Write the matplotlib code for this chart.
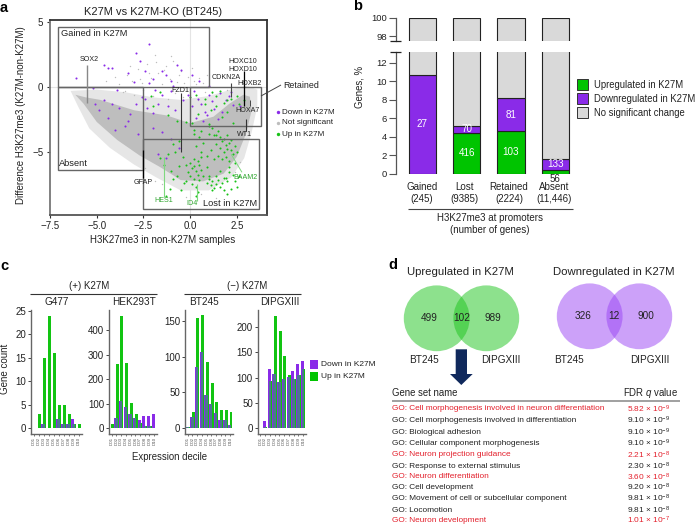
import matplotlib
matplotlib.use("Agg")
import matplotlib.pyplot as plt
from matplotlib.patches import Circle, Polygon, Rectangle

plt.rcParams['font.family'] = ['Liberation Sans', 'DejaVu Sans']
plt.rcParams['mathtext.fontset'] = 'custom'
plt.rcParams['mathtext.rm'] = 'Liberation Sans'
plt.rcParams['mathtext.it'] = 'Liberation Sans:italic'
plt.rcParams['mathtext.default'] = 'regular'

W, H = 696, 525
GREEN = '#00c400'
PURPLE = '#8a2be8'
LGRAY = '#d9d9d9'
TXT = '#222222'

# ---------- panel a data ----------
core_x = [-6.15,-5.6,-4.8,-3.0,-1.25,0.0,1.25,2.1,2.85,3.2,3.3,3.0,2.5,1.8,0.7,-0.5,-1.6,-2.7,-3.9,-5.0,-5.7]
core_y = [-0.6,-0.8,-1.0,-1.8,-2.2,-2.8,-2.3,-1.3,-0.6,-0.75,-1.8,-3.6,-5.4,-6.7,-7.3,-7.2,-6.2,-5.3,-4.1,-2.7,-1.3]
halo_x = [-6.4,-5.0,-3.5,-2.0,-0.5,1.0,2.2,3.0,3.6,3.6,3.3,2.9,2.2,1.0,-0.5,-1.8,-3.0,-4.3,-5.4,-6.0]
halo_y = [-0.3,-0.2,-0.4,-0.8,-1.0,-0.7,-0.2,0.1,-0.2,-1.5,-3.5,-5.5,-7.0,-8.0,-8.0,-7.0,-6.0,-4.7,-3.2,-1.5]
ns_x = [-3.8,-3.4,-3.1,-2.8,-2.6,-2.3,-2.1,-1.9,-1.7,-1.5,-1.3,-1.1,-0.9,-0.7,-0.5,-0.3,-0.1,0.1,0.3,0.5,0.7,0.9,
        -3.5,-3.0,-2.5,-2.0,-1.6,-1.2,-0.8,-0.4,0.0,0.4,0.8,1.2,1.6,2.0,-2.7,-2.2,-1.4,-0.6,0.2,-1.0,-1.8,-3.2,
        -4.5,-4.0,-3.6,-1.5,-2.4,0.6,1.4,1.8,2.4,2.7,-0.2,-1.9]
ns_y = [0.2,0.9,0.5,1.4,0.3,1.8,0.7,2.5,1.1,0.2,1.6,0.6,2.0,0.4,1.2,0.3,0.8,1.5,0.2,0.7,0.3,0.9,
        -0.3,-0.6,-0.2,-0.7,-0.4,-0.9,-0.5,-0.8,-0.6,-1.0,-0.4,-0.5,-0.3,-0.2,0.6,1.1,1.3,0.9,0.5,2.4,1.9,1.6,
        0.5,0.8,-0.4,-7.5,-6.3,-8.3,-8.6,-8.0,-6.6,-5.8,-8.5,-7.3]
down_x = [-6.1,-5.2,-4.6,-4.4,-4.2,-3.3,-2.9,-2.7,-2.2,-2.4,-2.0,-1.5,-1.3,-0.7,-0.5,0.1,0.5,1.0,-1.0,-3.9,-4.6,-4.2,-3.8,-3.2,
          -2.9,-2.6,-2.4,-2.3,-2.0,-1.7,-1.5,-1.2,-1.0,-0.8,-0.4,-0.1,0.2,0.4,0.6,0.8,1.0,1.2,1.3,0.3,0.7,1.6,1.9,2.1,2.3,2.7,
          1.5,-4.4,-3.5,-4.0,-2.8,-2.0,-1.5,-1.0,-1.7,-1.3,-0.6,-3.3,-4.9,-5.1,0.1,0.9,1.7,-2.2,-3.0,-1.9,-0.9,2.2]
down_y = [0.7,-0.1,1.7,1.5,1.5,1.1,2.6,2.0,3.3,1.2,0.6,1.2,0.9,1.7,1.3,0.9,0.5,0.1,0.5,-0.2,-1.0,-1.3,-1.6,-2.1,
          -1.3,-0.8,-0.9,-1.6,-2.0,-1.3,-0.6,-1.5,-0.3,-1.8,-1.0,-0.6,-0.3,-0.9,-1.3,-1.9,-0.6,-1.1,-1.7,-2.4,-2.6,-0.5,-1.0,-0.7,-1.4,-1.5,
          -2.5,-2.4,-3.0,-3.3,-3.6,-3.2,-3.5,-4.0,-5.2,-5.5,-4.7,-2.6,-1.8,-1.3,-1.5,-2.2,-1.9,0.3,0.4,-0.2,0.1,-0.4]
up_x = [1.4,1.6,1.7,1.8,1.9,2.0,2.1,2.2,1.5,1.7,1.9,2.1,2.3,1.6,1.8,2.0,2.2,1.3,2.4,2.5,
        0.9,1.0,1.1,1.2,1.3,1.4,1.5,1.6,1.7,1.8,1.9,2.0,2.1,2.2,2.3,1.0,1.2,1.4,1.6,1.8,2.0,2.4,2.6,2.5,
        -0.1,0.0,0.1,0.2,0.3,0.4,0.5,0.6,0.1,0.3,0.5,0.2,0.4,0.7,-0.2,0.0,0.2,0.4,0.6,0.3,
        -1.6,-1.4,-1.2,-1.0,-0.8,-0.6,-0.4,-0.9,-1.1,-0.7,-0.5,-0.3,-0.2,-0.9,-0.6,-1.3,
        0.9,1.1,1.3,0.7,1.5,0.5,0.2,0.9,2.1,2.4,1.0,0.6,0.3,1.2,1.4,1.0,
        0.1,0.4,0.8,1.1,1.4,1.7,2.0,2.3,2.6,2.2,1.8,1.4,1.0,0.6,0.2,-0.2,-2.1,-2.0,-1.6,-1.2,-0.7,0.0,0.3,0.8,1.2,1.6,2.0,2.5,2.9]
up_y = [-4.4,-4.7,-4.2,-5.0,-4.5,-4.8,-4.3,-4.9,-5.3,-5.6,-5.4,-5.7,-5.2,-3.9,-4.0,-3.7,-4.1,-3.7,-4.6,-5.0,
        -7.4,-7.1,-7.6,-7.3,-7.8,-7.5,-7.2,-7.7,-7.4,-8.0,-7.0,-7.3,-6.6,-7.9,-6.8,-6.9,-8.0,-6.9,-6.5,-7.0,-8.3,-7.3,-6.9,-7.7,
        -6.6,-6.9,-6.3,-7.1,-6.5,-6.8,-7.2,-6.4,-7.5,-7.7,-6.0,-6.1,-8.1,-6.9,-7.3,-5.9,-5.6,-5.7,-5.4,-8.4,
        -5.5,-6.0,-5.2,-6.5,-5.0,-6.1,-5.4,-7.1,-7.9,-6.9,-8.0,-7.4,-6.0,-4.4,-4.2,-8.4,
        -5.3,-4.9,-5.6,-4.3,-3.4,-3.9,-3.3,-6.2,-6.2,-5.9,-3.6,-5.0,-4.6,-3.2,-3.7,-2.9,
        -2.8,-2.1,-1.3,-1.8,-1.5,-2.3,-1.9,-2.8,-1.3,-0.9,-1.2,-0.7,-3.0,-3.4,-3.6,-2.7,-0.7,-1.5,-0.4,-2.2,-2.6,-0.8,-0.6,-0.9,-0.4,-0.3,-1.0,-0.7,-1.0]

# ---------- panel b data ----------
b_labels = ['Gained\n(245)', 'Lost\n(9385)', 'Retained\n(2224)', 'Absent\n(11,446)']
b_up = [0, 4.4, 4.6, 0.45]
b_down = [10.7, 0.8, 3.6, 1.15]
b_up_n = ['', '416', '103', '56']
b_down_n = ['27', '70', '81', '133']

# ---------- panel c data ----------
deciles = ['D%02d' % i for i in range(1, 11)]
g477_down = [0,0,1,0,0,2,1,1,2,0]
g477_up = [0,3,15,24,16,5,5,3,1,1]
hek_down = [2,42,112,85,58,42,32,49,51,60]
hek_up = [17,264,460,268,103,58,20,10,8,0]
bt_down = [1,15,85,106,47,34,21,11,12,5]
bt_up = [1,22,154,158,92,63,36,25,25,22]
dipg_down = [0,14,118,108,92,97,102,113,127,133]
dipg_up = [0,3,93,223,193,143,106,98,105,118]

# ---------- panel d data ----------
go_names = ['GO: Cell morphogenesis involved in neuron differentiation',
            'GO: Cell morphogenesis involved in differentiation',
            'GO: Biological adhesion', 'GO: Cellular component morphogenesis',
            'GO: Neuron projection guidance', 'GO: Response to external stimulus',
            'GO: Neuron differentiation', 'GO: Cell development',
            'GO: Movement of cell or subcellular component', 'GO: Locomotion',
            'GO: Neuron development']
go_mant = ['5.82','9.10','9.10','9.10','2.21','2.30','3.60','9.20','9.81','9.81','1.01']
go_exp = ['-9','-9','-9','-9','-8','-8','-8','-8','-8','-8','-7']
go_red = [True,False,False,False,True,False,True,False,False,False,True]

fig = plt.figure(figsize=(W/100, H/100), dpi=100)

def axpx(l, t, r, b):
    return fig.add_axes([l/W, 1-b/H, (r-l)/W, (b-t)/H])

# overlay in pixel coordinates, for annotation
ov = fig.add_axes([0, 0, 1, 1], zorder=20)
ov.set_xlim(0, W); ov.set_ylim(H, 0); ov.axis('off'); ov.patch.set_alpha(0)

def T(x, y, s, size=7, ha='center', va='center', color=TXT, **kw):
    return ov.text(x, y, s, fontsize=size, ha=ha, va=va, color=color, **kw)

def L(xs, ys, color='#333333', lw=0.8):
    ov.plot(xs, ys, color=color, lw=lw, solid_capstyle='butt')

for s, x, y in [('a', 4, 8), ('b', 358, 6), ('c', 4, 266), ('d', 393, 265)]:
    T(x, y, s, size=10.5, color='black', fontweight='bold')

# ---------- panel a ----------
a = axpx(49.5, 20, 267, 215)
a.set_xlim(-7.53, 4.12); a.set_ylim(-9.9, 5.18)
a.axhline(0, color='#e4e4e4', lw=0.8, zorder=0)
a.axvline(0, color='#e4e4e4', lw=0.8, zorder=0)
a.fill(halo_x, halo_y, color='#e6e6e6', lw=0, zorder=1)
a.fill(core_x, core_y, color='#bebebe', lw=0, zorder=1.1)
a.scatter(ns_x, ns_y, s=1.0, color='#bdbdbd', lw=0, zorder=2)
a.scatter(down_x, down_y, s=2.2, color=PURPLE, lw=0, zorder=3)
a.scatter(up_x, up_y, s=2.2, color='#18c218', lw=0, zorder=3)
for (x0, x1, y0, y1) in [(-7.1, 1.04, 0, 4.6), (-7.1, -2.5, -6.45, 0), (0, 3.79, -3.05, 0), (-2.5, 3.7, -9.45, -4)]:
    a.add_patch(Rectangle((x0, y0), x1-x0, y1-y0, fill=False, ec='#666666', lw=1.0, zorder=4))
for s in a.spines.values():
    s.set_color('#333333'); s.set_linewidth(1.3)
a.spines['left'].set_color('#777777'); a.spines['bottom'].set_color('#555555')
a.set_xticks([-7.5, -5, -2.5, 0, 2.5]); a.set_xticklabels(['\u22127.5', '\u22125.0', '\u22122.5', '0.0', '2.5'])
a.set_yticks([5, 0, -5]); a.set_yticklabels(['5', '0', '\u22125'])
a.tick_params(labelsize=7, length=2.5, width=0.8, pad=2, color='#333333', labelcolor=TXT)
a.set_zorder(5)
for xs, ys, c, lw in [([-5.5, -5.5], [1.7, -1.2], '#888888', 1.0), ([-2.5, -2.5], [-4.9, -7.0], 'black', 0.9),
                      ([-0.5, -0.5], [-0.5, -5.0], '#333333', 0.8), ([2.87, 2.87], [1.2, -1.5], 'black', 0.9),
                      ([2.17, 2.17], [0.3, -0.8], '#444444', 0.8), ([3.2, 3.2], [-1.0, -1.45], '#444444', 0.7),
                      ([2.98, 2.98], [-2.5, -3.4], '#333333', 0.8), ([2.2, 2.78], [-5.2, -6.6], '#7fd87f', 0.7),
                      ([-1.4, -1.4], [-5.4, -8.5], '#7fd87f', 0.8), ([0.35, 0.35], [-7.5, -8.8], '#7fd87f', 0.8)]:
    a.plot(xs, ys, color=c, lw=lw, zorder=4.5, solid_capstyle='butt')
GT = '#2fa52f'
for s, x, y, c in [('SOX2', -5.4, 2.1, TXT), ('GFAP', -2.5, -7.4, TXT), ('FZD1', -0.5, -0.3, TXT), ('HOXC10', 2.8, 2.0, TXT),
                   ('HOXD10', 2.8, 1.35, TXT), ('CDKN2A', 1.95, 0.7, TXT), ('HOXB2', 3.2, 0.25, TXT), ('HOXA7', 3.1, -1.8, TXT),
                   ('WT1', 2.9, -3.7, TXT), ('BAAM2', 2.97, -7.0, GT), ('HES1', -1.4, -8.8, GT), ('ID4', 0.08, -9.0, GT)]:
    a.text(x, y, s, fontsize=5.1, ha='center', va='center', color=c, zorder=6)
a.text(-6.9, 4.15, 'Gained in K27M', fontsize=6.7, ha='left', va='center', color=TXT, zorder=6)
a.text(-7.0, -5.9, 'Absent', fontsize=6.7, ha='left', va='center', color=TXT, zorder=6)
a.text(3.6, -9.0, 'Lost in K27M', fontsize=6.7, ha='right', va='center', color=TXT, zorder=6)
T(153, 12, 'K27M vs K27M-KO (BT245)', size=8.0)
T(163, 240, 'H3K27me3 in non-K27M samples', size=7.0)
T(21, 115, 'Difference H3K27me3 (K27M-non-K27M)', size=7.0, rotation=90)
T(283, 85, 'Retained', size=6.4, ha='left')
L([261, 281], [96, 85], '#444444', 0.7)
for y, c, s in [(112, PURPLE, 'Down in K27M'), (123, '#bdbdbd', 'Not significant'), (134, '#18c218', 'Up in K27M')]:
    ov.scatter([277.5], [y], s=6, color=c, lw=0)
    T(282, y, s, size=5.9, ha='left')

# ---------- panel b ----------
btop = axpx(396, 17.7, 573, 40.7)
blow = axpx(396, 51.7, 573, 173.7)
xpos = list(range(4))
for ax_ in (btop, blow):
    ax_.set_xlim(-0.596, 3.4)
    bottoms = [u+d for u, d in zip(b_up, b_down)]
    ax_.bar(xpos, b_up, width=0.62, color=GREEN, edgecolor='#222222', lw=0.8)
    ax_.bar(xpos, b_down, width=0.62, bottom=b_up, color=PURPLE, edgecolor='#222222', lw=0.8)
    ax_.bar(xpos, [100-v for v in bottoms], width=0.62, bottom=bottoms, color=LGRAY, edgecolor='#222222', lw=0.8)
    for k in ('top', 'right', 'bottom'):
        ax_.spines[k].set_visible(False)
    ax_.spines['left'].set_color('#555555')
    ax_.spines['left'].set_linewidth(0.9)
    ax_.set_xticks([])
    ax_.tick_params(labelsize=6.8, length=5, width=0.8, pad=1.5, color='#555555', labelcolor=TXT)
btop.set_ylim(97.5, 100); btop.set_yticks([100, 98])
blow.set_ylim(0, 13.2); blow.set_yticks(list(range(0, 13, 2)))
L([390, 401], [40.7, 40.7], '#222222', 0.9)
L([390, 401], [51.7, 51.7], '#222222', 0.9)
for i in xpos:
    if b_down_n[i]:
        blow.text(i, b_up[i]+b_down[i]/2, b_down_n[i], color='white', fontsize=7.1, ha='center', va='center')
    if b_up_n[i] and i != 3:
        blow.text(i, b_up[i]/2, b_up_n[i], color='white', fontsize=7.1, ha='center', va='center')
T(555, 178.7, b_up_n[3], size=7)
for cx, s in zip([421.7, 464.5, 509, 554.5], b_labels):
    T(cx, 193, s, size=7.0, linespacing=1.2)
L([407.7, 573.3], [209.3, 209.3], '#444444', 0.8)
T(490, 224, 'H3K27me3 at promoters\n(number of genes)', size=7.0, linespacing=1.2)
T(359.5, 87, 'Genes, %', size=6.9, rotation=90)
for y, c, s in [(79.3, GREEN, 'Upregulated in K27M'), (93.3, PURPLE, 'Downregulated in K27M'), (107.3, LGRAY, 'No significant change')]:
    ov.add_patch(Rectangle((576.5, y), 11.5, 10.5, fc=c, ec='#333333', lw=0.7))
    T(593.5, y+5.3, s, size=6.85, ha='left')

# ---------- panel c ----------
def decile_panel(box, down, up, ymax, yticks, title, tcx):
    ax = axpx(*box)
    xs = list(range(1, 11))
    ax.bar([x-0.17 for x in xs], down, width=0.62, color=PURPLE, lw=0, zorder=2)
    ax.bar([x+0.17 for x in xs], up, width=0.62, color='#12c412', lw=0, zorder=3)
    # where both bars of a decile stand side by side the reference blends to blue-grey
    ax.bar(xs, [min(d, u) for d, u in zip(down, up)], width=0.5, color='#4f7393', lw=0, zorder=4)
    ax.set_xlim(0.45, 10.6)
    ax.set_ylim(-ymax*0.0465, ymax)
    ax.set_xticks(xs)
    ax.set_xticklabels(deciles, rotation=90, fontsize=3.2, color='#555555')
    ax.set_yticks(yticks)
    ax.tick_params(axis='y', labelsize=7, length=2, width=0.7, pad=1.5, color='#444444', labelcolor=TXT)
    ax.tick_params(axis='x', length=1.5, width=0.5, pad=1, color='#444444')
    for k in ('top', 'right'):
        ax.spines[k].set_visible(False)
    for k in ('left', 'bottom'):
        ax.spines[k].set_color('#666666'); ax.spines[k].set_linewidth(1.0)
    T(tcx, 302.3, title, size=7.2)
    return ax

decile_panel((31, 310, 81.7, 433.7), g477_down, g477_up, 25.2, [0, 5, 10, 15, 20, 25], 'G477', 56.7)
decile_panel((109, 310, 157, 433.7), hek_down, hek_up, 483, [0, 100, 200, 300, 400], 'HEK293T', 134.3)
decile_panel((185, 310, 233, 433.7), bt_down, bt_up, 165, [0, 50, 100, 150], 'BT245', 204)
decile_panel((257.7, 310, 306, 433.7), dipg_down, dipg_up, 234, [0, 50, 100, 150, 200], 'DIPGXIII', 280)
T(89.3, 285.7, '(+) K27M', size=7)
T(247.3, 285.7, '(\u2212) K27M', size=7)
L([30, 157], [294.3, 294.3], '#333333', 0.8)
L([184.3, 300.7], [294.3, 294.3], '#333333', 0.8)
T(169.5, 456.7, 'Expression decile', size=6.9)
T(5, 369, 'Gene count', size=7, rotation=90)
for y, c, s in [(360.3, PURPLE, 'Down in K27M'), (371.8, GREEN, 'Up in K27M')]:
    ov.add_patch(Rectangle((310, y), 8.3, 8.7, fc=c, lw=0))
    T(320.7, y+4.4, s, size=6.0, ha='left')

# ---------- panel d ----------
for cx, cy, col in [(436.7, 318.3, '#1cc41c'), (486.3, 318.3, '#1cc41c'), (589.7, 316.3, '#9a45f5'), (639.3, 316.3, '#9a45f5')]:
    ov.add_patch(Circle((cx, cy), 32.9, fc=col, ec='none', alpha=0.5))
for x, y, s in [(429, 317.7, '499'), (461.3, 317.7, '102'), (493.3, 317.7, '989'),
                (583, 316.3, '326'), (614.3, 316.3, '12'), (645.7, 316.3, '900')]:
    T(x, y, s, size=7.2)
for x, s in [(424, 'BT245'), (501.3, 'DIPGXIII'), (568.7, 'BT245'), (649.7, 'DIPGXIII')]:
    T(x, 359.7, s, size=7.2)
T(460, 271.7, 'Upregulated in K27M', size=8.2)
T(614, 271.7, 'Downregulated in K27M', size=8.2)
ov.add_patch(Polygon([(455.7, 349.3), (467, 349.3), (467, 374), (472.7, 374), (461.3, 385), (450, 374), (455.7, 374)],
                     closed=True, fc='#10295c', ec='none'))
T(392, 393.3, 'Gene set name', size=6.9, ha='left')
T(622.7, 393.3, 'FDR $\\mathit{q}$ value', size=6.9, ha='left')
L([392, 680], [400.7, 400.7], '#999999', 1.3)
row_y = [409, 420.7, 432, 443.3, 455, 466, 477, 487.7, 498.7, 510, 520.3]
for y, n, m, e, r in zip(row_y, go_names, go_mant, go_exp, go_red):
    col = '#e3202c' if r else TXT
    T(392, y, n, size=5.95, ha='left', color=col)
    T(626.7, y, m + ' \u00d7 10$^{' + e.replace('-', '\u2212') + '}$', size=5.95, ha='left', color=col)

fig.savefig('out.png', dpi=100)
